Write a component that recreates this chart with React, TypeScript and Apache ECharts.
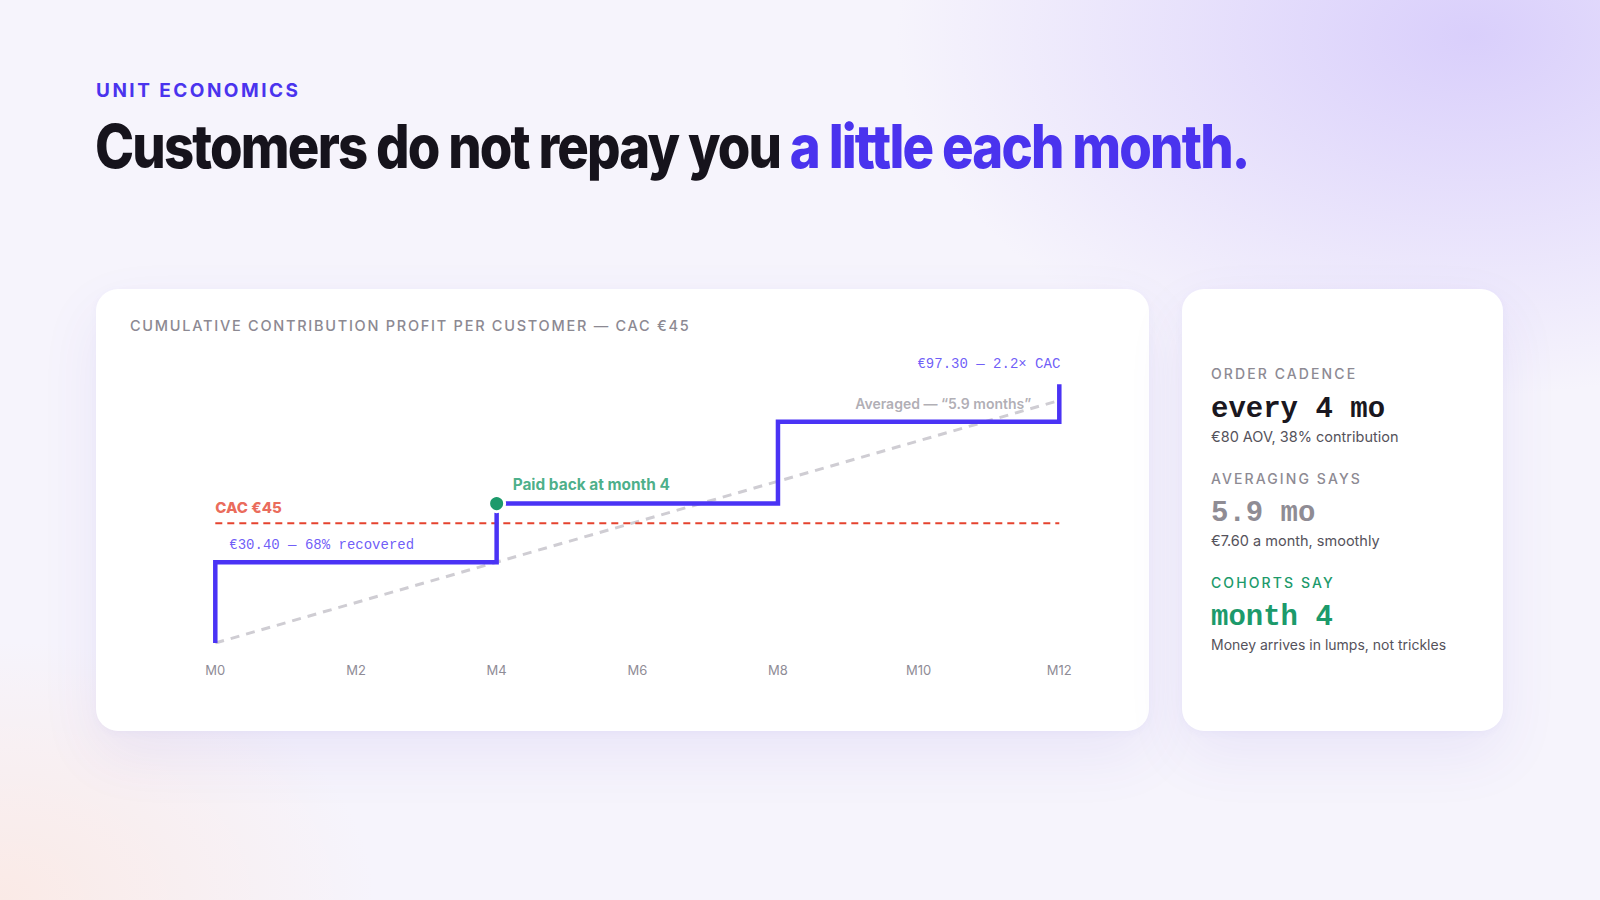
import React, { useEffect, useRef } from "react";
import * as echarts from "echarts";

// ---- data ----
const orderMonths = [0, 4, 8, 12];
const cumulativeProfit = [30.4, 52.4, 83.2, 97.3];
const cacValue = 45;
const averagedLine = [
  [0, 0],
  [12, 91.2],
];
const paybackPoint = [4, 52.4];
const tickValues = [0, 2, 4, 6, 8, 10, 12];
const tickLabels = ["M0", "M2", "M4", "M6", "M8", "M10", "M12"];

const annotationTexts = {
  cac: "CAC €45",
  recovered: "€30.40 — 68% recovered",
  payback: "Paid back at month 4",
  averaged: "Averaged — “5.9 months”",
  final: "€97.30 — 2.2× CAC",
};

const BLUE = "#4a33f5";
const GREEN = "#1c9a6b";
const RED = "#e5432f";
const MONO = "'Liberation Mono', 'DejaVu Sans Mono', monospace";
const SANS = "Inter, 'Noto Sans', sans-serif";

function buildSteps(): number[][] {
  const pts: number[][] = [[orderMonths[0], 0]];
  for (let i = 0; i < orderMonths.length; i++) {
    pts.push([orderMonths[i], cumulativeProfit[i]]);
    if (i < orderMonths.length - 1) pts.push([orderMonths[i + 1], cumulativeProfit[i]]);
  }
  return pts;
}

function Chart() {
  const ref = useRef<HTMLDivElement>(null);
  useEffect(() => {
    if (!ref.current) return;
    const chart = echarts.init(ref.current, undefined, { renderer: "svg" });
    const anno = (
      value: number[],
      text: string,
      color: string,
      align: string,
      offset: number[],
      fontFamily: string,
      fontWeight: any,
      fontSize: number
    ) => ({
      value,
      label: {
        show: true,
        position: "inside",
        formatter: text,
        color,
        align,
        verticalAlign: "middle",
        offset,
        fontFamily,
        fontWeight,
        fontSize,
      },
    });
    chart.setOption({
      animation: false,
      grid: { left: 119.3, right: 89.7, top: 88, bottom: 88 },
      xAxis: {
        type: "value",
        min: 0,
        max: 12,
        interval: 2,
        axisLine: { show: false },
        axisTick: { show: false },
        splitLine: { show: false },
        axisLabel: {
          color: "#8f8c96",
          fontSize: 13,
          fontFamily: SANS,
          margin: 20,
          formatter: (v: number) => tickLabels[tickValues.indexOf(v)] ?? "",
        },
      },
      yAxis: { type: "value", min: 0, max: 100, show: false },
      series: [
        {
          name: "Averaged",
          type: "line",
          data: averagedLine,
          symbol: "none",
          z: 1,
          lineStyle: { color: "#cfcdd3", width: 3, type: [9, 7] },
        },
        {
          name: "CAC",
          type: "line",
          data: [
            [0, cacValue],
            [12, cacValue],
          ],
          symbol: "none",
          z: 2,
          lineStyle: { color: RED, width: 2, type: [7, 5] },
        },
        {
          name: "Cumulative",
          type: "line",
          data: buildSteps(),
          symbol: "none",
          z: 3,
          lineStyle: { color: BLUE, width: 4.5, join: "miter", cap: "butt" },
        },
        {
          name: "Payback",
          type: "scatter",
          data: [paybackPoint],
          symbolSize: 16,
          z: 5,
          itemStyle: { color: GREEN, borderColor: "#ffffff", borderWidth: 3, opacity: 1 },
        },
        {
          name: "Annotations",
          type: "scatter",
          symbolSize: 1,
          z: 6,
          itemStyle: { color: "rgba(0,0,0,0)" },
          data: [
            anno([0, cacValue], annotationTexts.cac, RED, "left", [0, -16], SANS, 800, 15),
            anno([0, cumulativeProfit[0]], annotationTexts.recovered, BLUE, "left", [14, -17], MONO, 400, 14),
            anno(paybackPoint, annotationTexts.payback, GREEN, "left", [16, -19], SANS, 700, 15.4),
            anno([12, averagedLine[1][1]], annotationTexts.averaged, "#9c99a2", "right", [-28, 3], SANS, 600, 14),
            anno([12, cumulativeProfit[3]], annotationTexts.final, BLUE, "right", [1, -20], MONO, 400, 14),
          ],
        },
      ],
    });
    return () => chart.dispose();
  }, []);
  return <div ref={ref} style={{ position: "absolute", left: 0, top: 0, width: 1053, height: 442 }} />;
}

const abs = (left: number, centerY: number, size: number, extra: React.CSSProperties = {}): React.CSSProperties => ({
  position: "absolute",
  left,
  top: centerY - size / 2,
  fontSize: size,
  lineHeight: `${size}px`,
  whiteSpace: "nowrap",
  margin: 0,
  ...extra,
});

export default function App() {
  const labelStyle = (color: string): React.CSSProperties => ({
    fontFamily: SANS,
    fontWeight: 500,
    letterSpacing: "0.15em",
    color,
  });
  const bodyText: React.CSSProperties = { color: "#55525b" };
  return (
    <div
      style={{
        position: "fixed",
        left: 0,
        top: 0,
        width: 1600,
        height: 900,
        overflow: "hidden",
        fontFamily: SANS,
        background:
          "radial-gradient(ellipse 800px 500px at 92% 4%, rgba(198,182,251,0.6), rgba(198,182,251,0) 72%), radial-gradient(ellipse 520px 360px at 0% 100%, rgba(255,224,208,0.5), rgba(255,224,208,0) 72%), #f6f4fc",
      }}
    >
      <div style={abs(96, 90, 19, { fontWeight: 700, letterSpacing: "0.13em", color: "#4a33ee" })}>UNIT ECONOMICS</div>
      <div
        style={abs(95, 146, 60, {
          fontWeight: 800,
          letterSpacing: "-0.035em",
          color: "#16131c",
          transform: "scaleX(0.878)",
          transformOrigin: "0 50%",
        })}
      >
        Customers do not repay you <span style={{ color: "#4a33ee" }}>a little each month.</span>
      </div>

      {/* left card */}
      <div
        style={{
          position: "absolute",
          left: 96,
          top: 289,
          width: 1053,
          height: 442,
          background: "#ffffff",
          borderRadius: 22,
          boxShadow: "0 24px 60px rgba(88,64,200,0.08), 0 2px 8px rgba(88,64,200,0.04)",
        }}
      >
        <div style={abs(34, 37.5, 14.5, { ...labelStyle("#8c8992"), letterSpacing: "0.12em" })}>
          CUMULATIVE CONTRIBUTION PROFIT PER CUSTOMER — CAC €45
        </div>
        <Chart />
      </div>

      {/* right card */}
      <div
        style={{
          position: "absolute",
          left: 1182,
          top: 289,
          width: 321,
          height: 442,
          background: "#ffffff",
          borderRadius: 22,
          boxShadow: "0 24px 60px rgba(88,64,200,0.08), 0 2px 8px rgba(88,64,200,0.04)",
        }}
      >
        <div style={abs(29, 374 - 289, 14, labelStyle("#8d8a93"))}>ORDER CADENCE</div>
        <div style={abs(29, 409 - 289, 29, { fontFamily: MONO, fontWeight: 700, color: "#1a1720" })}>every 4 mo</div>
        <div style={abs(29, 437 - 289, 14.5, bodyText)}>€80 AOV, 38% contribution</div>

        <div style={abs(29, 478.5 - 289, 14, labelStyle("#8d8a93"))}>AVERAGING SAYS</div>
        <div style={abs(29, 513 - 289, 29, { fontFamily: MONO, fontWeight: 700, color: "#8f8c94" })}>5.9 mo</div>
        <div style={abs(29, 541 - 289, 14.5, bodyText)}>€7.60 a month, smoothly</div>

        <div style={abs(29, 583 - 289, 14, labelStyle(GREEN))}>COHORTS SAY</div>
        <div style={abs(29, 617 - 289, 29, { fontFamily: MONO, fontWeight: 700, color: GREEN })}>month 4</div>
        <div style={abs(29, 645 - 289, 14, bodyText)}>Money arrives in lumps, not trickles</div>
      </div>
    </div>
  );
}
